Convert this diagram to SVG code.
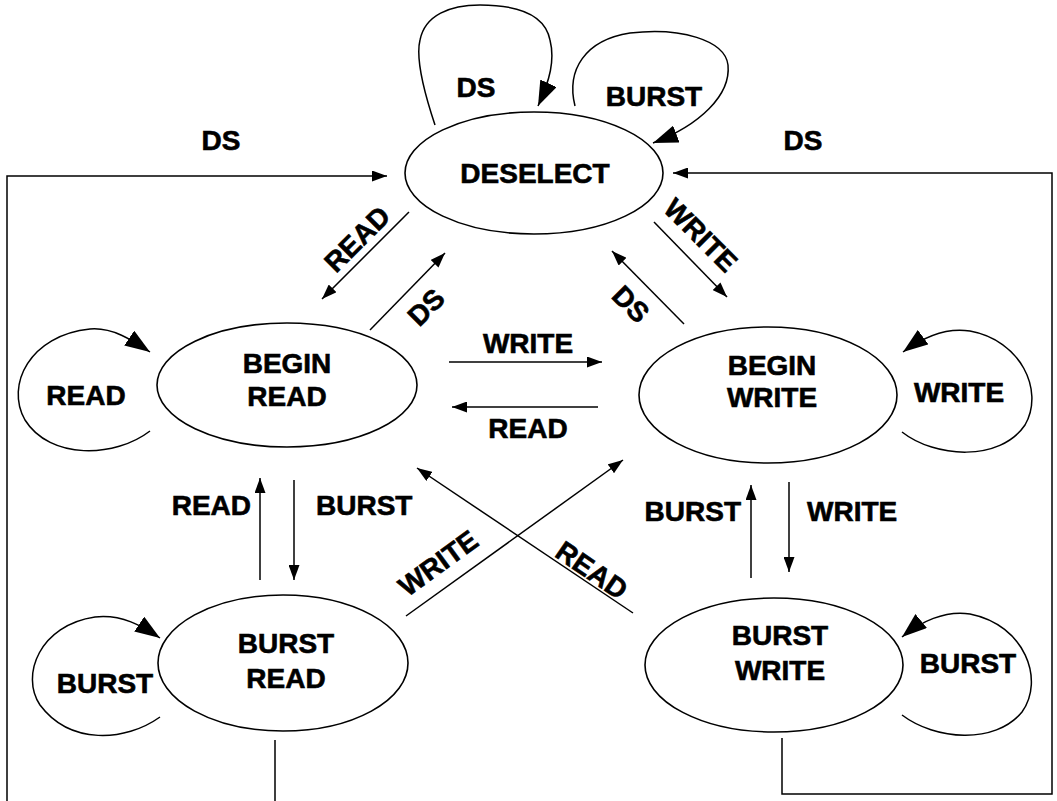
<svg xmlns="http://www.w3.org/2000/svg" width="1057" height="801" viewBox="0 0 1057 801">
<defs>
<style>
.n{fill:none;stroke:#000;stroke-width:1.6}
.c{fill:none;stroke:#000;stroke-width:1.5}
.a{marker-end:url(#ah)}
.l{marker-end:url(#lh)}
text{font-family:"Liberation Sans",Arial,sans-serif;font-weight:bold;font-size:28px;fill:#000;stroke:#000;stroke-width:0.6}
.m{text-anchor:middle}
.e{text-anchor:end}
</style>
<marker id="ah" markerUnits="userSpaceOnUse" markerWidth="15" markerHeight="11" refX="15" refY="5.5" orient="auto"><path d="M0,0 L15,5.5 L0,11 z" fill="#000"/></marker>
<marker id="lh" markerUnits="userSpaceOnUse" markerWidth="26" markerHeight="18" refX="25" refY="9" orient="auto"><path d="M0,0 L25,9 L0,18 z" fill="#000"/></marker>
</defs>
<rect width="1057" height="801" fill="#fff"/>
<g id="connectors">
<path class="c a" d="M275,740 V820 H7 V176 H387"/>
<path class="c a" d="M782,738 V794 H1052 V173 H673"/>
<path class="c l" d="M435,125 C 425,95 415,60 420,40 C 425,15 450,5 480,5 C 520,5 545,15 550,40 C 555,60 550,80 538,106"/>
<path class="c l" d="M575,106 C 566,70 585,40 630,33 C 680,27 725,40 728,65 C 731,95 700,125 653,143"/>
<path class="c l" d="M150,431 C 115,458 50,460 25,420 C 5,385 30,335 90,329 C 112,327 132,340 150,352"/>
<path class="c l" d="M902,432 C 935,458 1000,462 1025,425 C 1045,390 1020,340 970,331 C 945,327 922,338 903,352"/>
<path class="c l" d="M160,717 C 125,742 70,745 40,705 C 20,675 40,625 95,617 C 122,614 142,626 160,638"/>
<path class="c l" d="M902,715 C 935,740 995,745 1022,712 C 1045,680 1025,625 970,614 C 945,610 920,622 902,637"/>
<path class="c a" d="M409,212 L322,299"/>
<path class="c a" d="M370,330 L445,253"/>
<path class="c a" d="M654,222 L727,297"/>
<path class="c a" d="M684,324 L612,251"/>
<path class="c a" d="M449,362 H602"/>
<path class="c a" d="M598,407 H452"/>
<path class="c a" d="M260,580 V478"/>
<path class="c a" d="M294,480 V580"/>
<path class="c a" d="M751,578 V485"/>
<path class="c a" d="M789,482 V572"/>
<path class="c a" d="M633,613 L417,468"/>
<path class="c a" d="M406,616 L623,460"/>
</g>
<g id="labels">
<text class="m" x="221" y="150">DS</text>
<text class="m" x="803" y="150">DS</text>
<text class="m" x="476" y="97">DS</text>
<text class="m" x="654" y="106">BURST</text>
<text class="m" x="86" y="405">READ</text>
<text class="m" x="959" y="402">WRITE</text>
<text class="m" x="105" y="693">BURST</text>
<text class="m" x="968" y="673">BURST</text>
<text class="m" x="528" y="353">WRITE</text>
<text class="m" x="528" y="438">READ</text>
<text class="e" x="251" y="515">READ</text>
<text x="316" y="515">BURST</text>
<text class="e" x="741" y="521">BURST</text>
<text x="807" y="521">WRITE</text>
<text class="m" transform="translate(357,239) rotate(-45)" y="10">READ</text>
<text class="m" transform="translate(426,307) rotate(-45)" y="10">DS</text>
<text class="m" transform="translate(701,235) rotate(45)" y="10">WRITE</text>
<text class="m" transform="translate(631,304) rotate(45)" y="10">DS</text>
<text class="m" transform="translate(438,563) rotate(-36)" y="10">WRITE</text>
<text class="m" transform="translate(592,570) rotate(34.4)" y="10">READ</text>
</g>
<g id="deselect"><ellipse class="n" cx="534" cy="173" rx="129" ry="61"/><text class="m" x="535" y="183">DESELECT</text></g>
<g id="begin-read"><ellipse class="n" cx="287" cy="385" rx="130" ry="62"/><text class="m" x="287" y="373">BEGIN</text><text class="m" x="287" y="406">READ</text></g>
<g id="begin-write"><ellipse class="n" cx="768" cy="395" rx="129" ry="68"/><text class="m" x="772" y="375">BEGIN</text><text class="m" x="772" y="407">WRITE</text></g>
<g id="burst-read"><ellipse class="n" cx="283" cy="663" rx="125" ry="68"/><text class="m" x="286" y="653">BURST</text><text class="m" x="286" y="688">READ</text></g>
<g id="burst-write"><ellipse class="n" cx="774" cy="665" rx="129" ry="67"/><text class="m" x="780" y="645">BURST</text><text class="m" x="780" y="680">WRITE</text></g>
</svg>
